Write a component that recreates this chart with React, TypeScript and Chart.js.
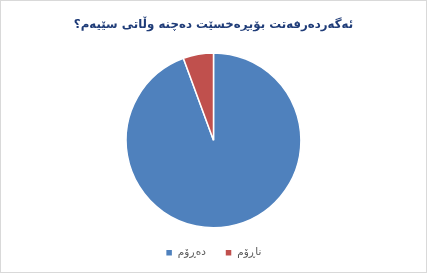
import React, { useEffect, useRef } from "react";
import { Chart, registerables } from "chart.js";

Chart.register(...registerables);

const titleText = "ئەگەردەرفەتت بۆبڕەخسێت دەچنە وڵاتی سێیەم؟";
const categories = ["دەڕۆم", "ناڕۆم"];
const values = [94.4, 5.6];
const colors = ["#4F81BD", "#C0504D"];

export default function App() {
  const ref = useRef<HTMLCanvasElement | null>(null);
  useEffect(() => {
    if (!ref.current) return;
    const chart = new Chart(ref.current, {
      type: "pie",
      data: {
        labels: categories,
        datasets: [
          {
            data: values,
            backgroundColor: colors,
            borderColor: "#ffffff",
            borderWidth: 1.5,
          },
        ],
      },
      options: {
        animation: false,
        responsive: false,
        maintainAspectRatio: false,
        layout: { padding: { top: 0, bottom: 4, left: 0, right: 0 } },
        plugins: {
          title: {
            display: true,
            text: titleText,
            color: "#1F3C78",
            font: { family: "DejaVu Sans", size: 11.8, weight: "bold" },
            padding: { top: 17, bottom: 20 },
          },
          legend: {
            position: "bottom",
            labels: {
              color: "#595959",
              font: { family: "DejaVu Sans", size: 10.5 },
              boxWidth: 7,
              boxHeight: 7,
              padding: 19,
            },
          },
          tooltip: { enabled: false },
        },
      },
    });
    return () => chart.destroy();
  }, []);
  return (
    <div
      style={{
        position: "absolute",
        left: 0,
        top: 0,
        width: 427,
        height: 273,
        boxSizing: "border-box",
        border: "1px solid #d9d9d9",
        background: "#ffffff",
      }}
    >
      <canvas ref={ref} width={425} height={271} style={{ display: "block" }} />
    </div>
  );
}
